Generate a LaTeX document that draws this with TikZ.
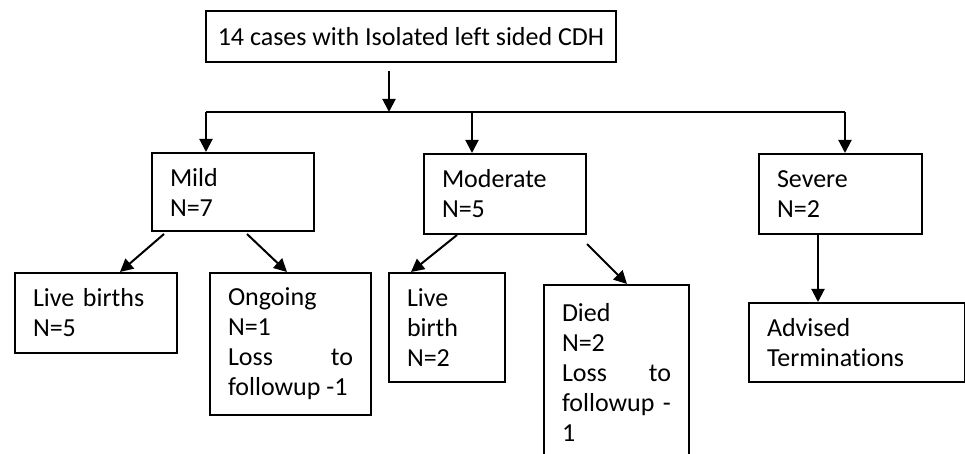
\documentclass[tikz,border=0pt]{standalone}
\usepackage{fontspec}
\setmainfont{Carlito}[Ligatures=NoCommon]
\usetikzlibrary{positioning,arrows.meta}
\hyphenpenalty=10000

\begin{document}
\begin{tikzpicture}[x=0.5pt,y=-0.5pt]
\tikzset{box/.style={draw,line width=1pt,rectangle,anchor=north west,align=left,inner xsep=9pt,inner ysep=0pt,font=\fontsize{13}{15}\selectfont},
  jbox/.style={box,align=justify},
  arr/.style={line width=1pt,-{Triangle[length=6.5pt,width=6.5pt]}}}
\clip (0,0) rectangle (965,454);
% top of the tree
\node[draw,line width=1pt,minimum width=205pt,minimum height=25.5pt,inner sep=0pt,font=\fontsize{13}{15}\selectfont] (cases) at (411,36.5) {14 cases with Isolated left sided CDH};
\coordinate (t0) at (389,71);
\coordinate (bus) at (389,112);
\coordinate (busL) at (206,112);
\coordinate (busM) at (472,112);
\coordinate (busR) at (845,112);
% severity groups
\node[box,text width=63pt,minimum height=39pt] (mild) at (151,152) {Mild\\N=7};
\node[box,text width=63pt,minimum height=40pt] (moderate) at (423,153) {Moderate\\N=5};
\node[box,text width=63.5pt,minimum height=40pt] (severe) at (758,153) {Severe\\N=2};
% outcomes
\node[box,text width=63pt,minimum height=40pt] (livebirths) at (14,272) {Live births\\N=5};
\node[jbox,text width=62.5pt,minimum height=71pt] (ongoing) at (209,272) {Ongoing\\N=1\\Loss to\linebreak followup -1};
\node[box,text width=40pt,minimum height=54.5pt] (livebirth) at (388,272) {Live\\birth\\N=2};
\node[jbox,text width=54.5pt,minimum height=87.5pt] (died) at (543,284) {Died\\N=2\\Loss to\linebreak followup -\linebreak 1};
\node[box,text width=90pt,minimum height=39.5pt] (advised) at (748,302) {Advised\\Terminations};
% connectors
\draw[arr] (t0) -- (bus);
\draw[line width=1pt] (busL) -- (busR);
\draw[arr] (busL) -- (busL |- mild.north);
\draw[arr] (busM) -- (busM |- moderate.north);
\draw[arr] (busR) -- (busR |- severe.north);
\draw[arr] ([xshift=6.5pt,yshift=-1pt]mild.south west) -- ([xshift=53pt]livebirths.north west);
\draw[arr] ([xshift=48pt,yshift=-1pt]mild.south west) -- ([xshift=39pt]ongoing.north west);
\draw[arr] ([xshift=17pt]moderate.south west) -- ([xshift=11.5pt]livebirth.north west);
\draw[arr] ([yshift=-4.5pt]moderate.south east) -- ([xshift=42pt]died.north west);
\draw[arr] ([xshift=30pt]severe.south west) -- ([xshift=35pt]advised.north west);
\end{tikzpicture}
\end{document}
